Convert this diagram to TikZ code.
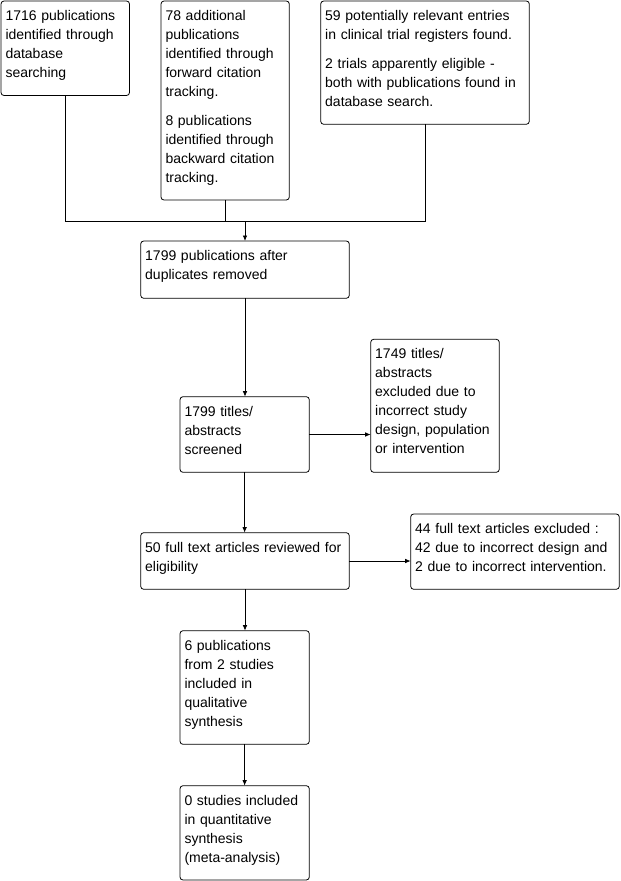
\documentclass[tikz,border=0pt]{standalone}
\usepackage{fontspec}
\setmainfont{Liberation Sans}
\usepackage{xcolor}
\definecolor{boxline}{RGB}{0, 0, 0}
\usetikzlibrary{arrows.meta, positioning, calc}

\begin{document}
\begin{tikzpicture}[x=1pt, y=-1pt, >={Latex[length=5.5pt, width=4.5pt]},
    flowbox/.style={draw=boxline, line width=0.8pt, rounded corners=3pt, anchor=north west,
        outer sep=0pt, align=left, inner xsep=4.5pt, inner ysep=6.5pt, text height=13pt,
        font=\fontsize{14}{19}\selectfont},
    flowline/.style={line width=0.8pt, draw=boxline}]
    \useasboundingbox (0,0) rectangle (621,881);

    % sources
    \node[flowbox, text width=119.5pt, text depth=68.5pt] (db) at (1,1)
        {1716 publications\\identified through\\database\\searching};
    \node[flowbox, text width=119.3pt, text depth=173pt] (cite) at (161,1)
        {78 additional\\publications\\identified through\\forward citation\\tracking.\\[10pt]
         8 publications\\identified through\\backward citation\\tracking.};
    \node[flowbox, text width=199.6pt, text depth=97.3pt] (reg) at (320.7,1)
        {59 potentially relevant entries\\in clinical trial registers found.\\[10pt]
         2 trials apparently eligible -\\both with publications found in\\database search.};

    % main flow
    \node[flowbox, text width=199.6pt, text depth=31.3pt] (dedup) at (140.7,241)
        {1799 publications after\\duplicates removed};
    \node[flowbox, text width=120.3pt, text depth=49.6pt] (screen) at (180,396.7)
        {1799 titles/\\abstracts\\screened};
    \node[flowbox, text width=119.6pt, text depth=107pt] (excl1) at (370.7,339.3)
        {1749 titles/\\abstracts\\excluded due to\\incorrect study\\design, population\\or intervention};
    \node[flowbox, text width=199.6pt, text depth=30.6pt] (full) at (140.7,532.7)
        {50 full text articles reviewed for\\eligibility};
    \node[flowbox, text width=199.6pt, text depth=49.3pt] (excl2) at (410.7,514)
        {44 full text articles excluded :\\42 due to incorrect design and\\2 due to incorrect intervention.};
    \node[flowbox, text width=120.3pt, text depth=87.6pt] (qual) at (180,630.7)
        {6 publications\\from 2 studies\\included in\\qualitative\\synthesis};
    \node[flowbox, text width=120.3pt, text depth=68.3pt] (quant) at (180,785.7)
        {0 studies included\\in quantitative\\synthesis\\(meta-analysis)};

    % merging the sources
    \coordinate (merge) at ($(dedup.north)+(0,-20)$);
    \draw[flowline] (db.south) |- (merge);
    \draw[flowline] (reg.south) |- (merge);
    \draw[flowline] (cite.south) -- (cite.south |- merge);
    \draw[flowline, ->] (merge) -- (dedup.north);

    \draw[flowline, ->] (dedup.south) -- (dedup.south |- screen.north);
    \draw[flowline, ->] (screen.east) -- (screen.east -| excl1.west);
    \draw[flowline, ->] (screen.south) -- (screen.south |- full.north);
    \draw[flowline, ->] (full.east) -- (full.east -| excl2.west);
    \draw[flowline, ->] (full.south) -- (full.south |- qual.north);
    \draw[flowline, ->] (qual.south) -- (qual.south |- quant.north);
\end{tikzpicture}
\end{document}
